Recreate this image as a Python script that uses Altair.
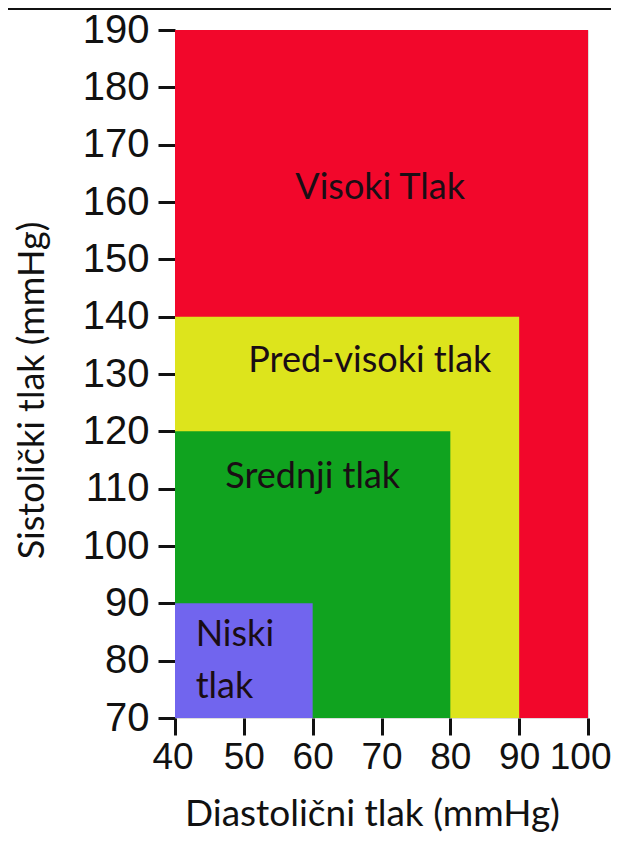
import altair as alt
import pandas as pd

zone_names = ["Visoki Tlak", "Pred-visoki tlak", "Srednji tlak", "Niski tlak"]
dia_lo = [40, 40, 40, 40]
dia_hi = [100, 90, 80, 60]
sys_lo = [70, 70, 70, 70]
sys_hi = [190, 140, 120, 90]
zone_colors = ["#F2072B", "#DDE41C", "#10A31F", "#7165EE"]

label_text = ["Visoki Tlak", "Pred-visoki tlak", "Srednji tlak", "Niski", "tlak"]
label_x = [69.8, 68.3, 60.0, 43.0, 43.0]
label_y = [162.4, 132.3, 112.0, 84.5, 75.4]
label_align = ["center", "center", "center", "left", "left"]

x_ticks = [40, 50, 60, 70, 80, 90, 100]
y_ticks = [70, 80, 90, 100, 110, 120, 130, 140, 150, 160, 170, 180, 190]

zones = pd.DataFrame({"zone": zone_names, "x": dia_lo, "x2": dia_hi,
                      "y": sys_lo, "y2": sys_hi, "color": zone_colors})
labels = pd.DataFrame({"t": label_text, "x": label_x, "y": label_y, "a": label_align})

xscale = alt.Scale(domain=[40, 100], nice=False, zero=False)
yscale = alt.Scale(domain=[70, 190], nice=False, zero=False)

rects = alt.Chart(zones).mark_rect().encode(
    x=alt.X("x:Q", scale=xscale,
            axis=alt.Axis(values=x_ticks, title="Diastolični tlak (mmHg)", grid=False,
                          domain=False, tickSize=17, tickWidth=3, tickColor="#111",
                          labelFont="Liberation Sans", labelFontSize=37, labelColor="#111",
                          labelPadding=4, labelOverlap=False, labelFlush=True,
                          labelFlushOffset=23,
                          titleFont="Lato", titleFontSize=37,
                          titleFontWeight="normal", titleColor="#111",
                          titleX=197, titleY=96, titleBaseline="middle")),
    x2="x2:Q",
    y=alt.Y("y:Q", scale=yscale,
            axis=alt.Axis(values=y_ticks, title="Sistolički tlak (mmHg)", grid=False,
                          domain=False, tickSize=17, tickWidth=3, tickColor="#111",
                          labelFont="Liberation Sans", labelFontSize=40, labelColor="#111",
                          labelPadding=9, labelOverlap=False, labelFlush=False,
                          titleFont="Lato", titleFontSize=36,
                          titleFontWeight="normal", titleColor="#111",
                          titleX=-143, titleY=360, titleBaseline="middle", titleAngle=-90)),
    y2="y2:Q",
    color=alt.Color("color:N", scale=None),
    order=alt.Order("x2:Q", sort="descending"),
)

texts_c = alt.Chart(labels).transform_filter("datum.a == 'center'").mark_text(
    font="Lato", fontSize=36, color="#1a0d14", align="center", baseline="middle"
).encode(x=alt.X("x:Q", scale=xscale), y=alt.Y("y:Q", scale=yscale), text="t:N")

texts_l = alt.Chart(labels).transform_filter("datum.a == 'left'").mark_text(
    font="Lato", fontSize=36, color="#1a0d14", align="left", baseline="middle"
).encode(x=alt.X("x:Q", scale=xscale), y=alt.Y("y:Q", scale=yscale), text="t:N")

topline = alt.Chart(pd.DataFrame({"v": [0]})).mark_rule(
    color="#111", strokeWidth=2, clip=False
).encode(x=alt.value(-175), x2=alt.value(444), y=alt.value(-21))

chart = alt.layer(rects, texts_c, texts_l, topline).properties(
    width=413, height=688,
    autosize=alt.AutoSizeParams(type="none"),
    padding={"left": 167, "top": 22, "right": 23, "bottom": 115},
).configure_view(strokeWidth=0).configure(background="white")

chart.save("out.html", embed_options={"renderer": "svg", "actions": False})
